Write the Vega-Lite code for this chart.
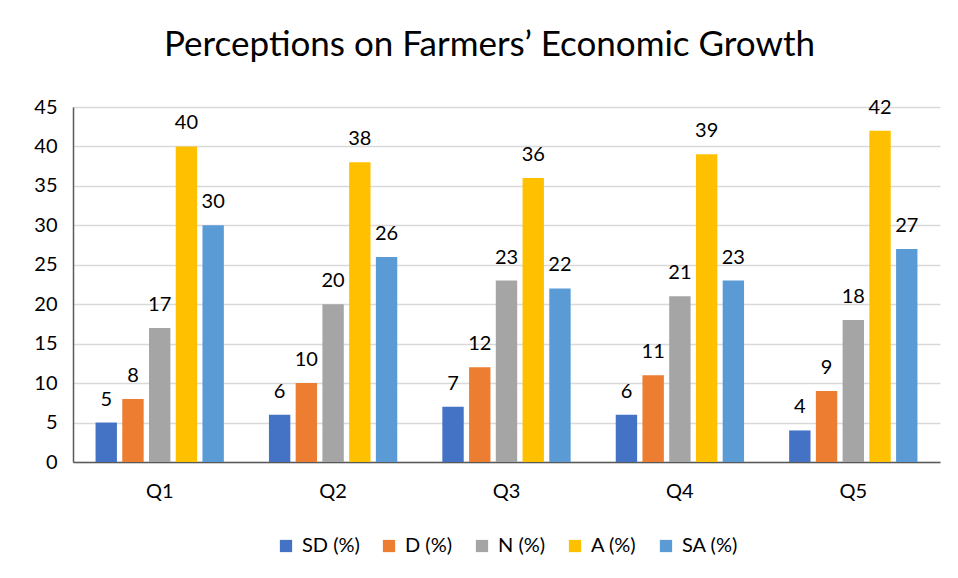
{
  "$schema": "https://vega.github.io/schema/vega-lite/v6.json",
  "autosize": "none",
  "width": 867,
  "height": 355,
  "padding": {"left": 73, "top": 107, "right": 18, "bottom": 116},
  "background": "white",
  "title": {"text": "Perceptions on Farmers’ Economic Growth", "fontSize": 35, "font": "Lato", "fontWeight": "normal", "color": "#000000", "anchor": "middle", "dx": -17, "offset": 34},
  "data": {"values": [
    {"q": "Q1", "s": "SD (%)", "v": 5}, {"q": "Q1", "s": "D (%)", "v": 8}, {"q": "Q1", "s": "N (%)", "v": 17}, {"q": "Q1", "s": "A (%)", "v": 40}, {"q": "Q1", "s": "SA (%)", "v": 30},
    {"q": "Q2", "s": "SD (%)", "v": 6}, {"q": "Q2", "s": "D (%)", "v": 10}, {"q": "Q2", "s": "N (%)", "v": 20}, {"q": "Q2", "s": "A (%)", "v": 38}, {"q": "Q2", "s": "SA (%)", "v": 26},
    {"q": "Q3", "s": "SD (%)", "v": 7}, {"q": "Q3", "s": "D (%)", "v": 12}, {"q": "Q3", "s": "N (%)", "v": 23}, {"q": "Q3", "s": "A (%)", "v": 36}, {"q": "Q3", "s": "SA (%)", "v": 22},
    {"q": "Q4", "s": "SD (%)", "v": 6}, {"q": "Q4", "s": "D (%)", "v": 11}, {"q": "Q4", "s": "N (%)", "v": 21}, {"q": "Q4", "s": "A (%)", "v": 39}, {"q": "Q4", "s": "SA (%)", "v": 23},
    {"q": "Q5", "s": "SD (%)", "v": 4}, {"q": "Q5", "s": "D (%)", "v": 9}, {"q": "Q5", "s": "N (%)", "v": 18}, {"q": "Q5", "s": "A (%)", "v": 42}, {"q": "Q5", "s": "SA (%)", "v": 27}
  ]},
  "encoding": {
    "x": {"field": "q", "type": "nominal", "title": null, "sort": null,
          "scale": {"paddingInner": 0.26, "paddingOuter": 0.13},
          "axis": {"labelAngle": 0, "labelFontSize": 20, "labelFont": "Lato", "labelColor": "#000000", "labelPadding": 19, "ticks": false, "domainColor": "#595959", "domainWidth": 1.5, "grid": false}},
    "xOffset": {"field": "s", "type": "nominal", "sort": ["SD (%)", "D (%)", "N (%)", "A (%)", "SA (%)"], "scale": {"paddingInner": 0.2, "paddingOuter": 0}},
    "y": {"field": "v", "type": "quantitative", "title": null,
          "scale": {"domain": [0, 45]},
          "axis": {"values": [0, 5, 10, 15, 20, 25, 30, 35, 40, 45], "labelFontSize": 20, "labelFont": "Lato", "labelColor": "#000000", "labelPadding": 16, "ticks": false, "domainColor": "#595959", "domainWidth": 1.5, "gridColor": "#d9d9d9", "gridWidth": 1.5}}
  },
  "layer": [
    {"mark": {"type": "bar"},
     "encoding": {"color": {"field": "s", "type": "nominal", "sort": ["SD (%)", "D (%)", "N (%)", "A (%)", "SA (%)"],
        "scale": {"domain": ["SD (%)", "D (%)", "N (%)", "A (%)", "SA (%)"], "range": ["#4472C4", "#ED7D31", "#A5A5A5", "#FFC000", "#5B9BD5"]},
        "legend": {"title": null, "orient": "bottom", "direction": "horizontal", "symbolType": "square", "symbolSize": 150, "symbolStrokeWidth": 0, "labelFontSize": 20, "labelFont": "Lato", "labelColor": "#000000", "columnPadding": 19, "offset": 35, "labelOffset": 6}}}},
    {"mark": {"type": "text", "baseline": "bottom", "dy": -13, "fontSize": 20, "font": "Lato", "color": "#000000"},
     "encoding": {"text": {"field": "v", "type": "quantitative"}}}
  ],
  "config": {"view": {"stroke": null}, "legend": {"layout": {"bottom": {"anchor": "middle"}}}}
}
